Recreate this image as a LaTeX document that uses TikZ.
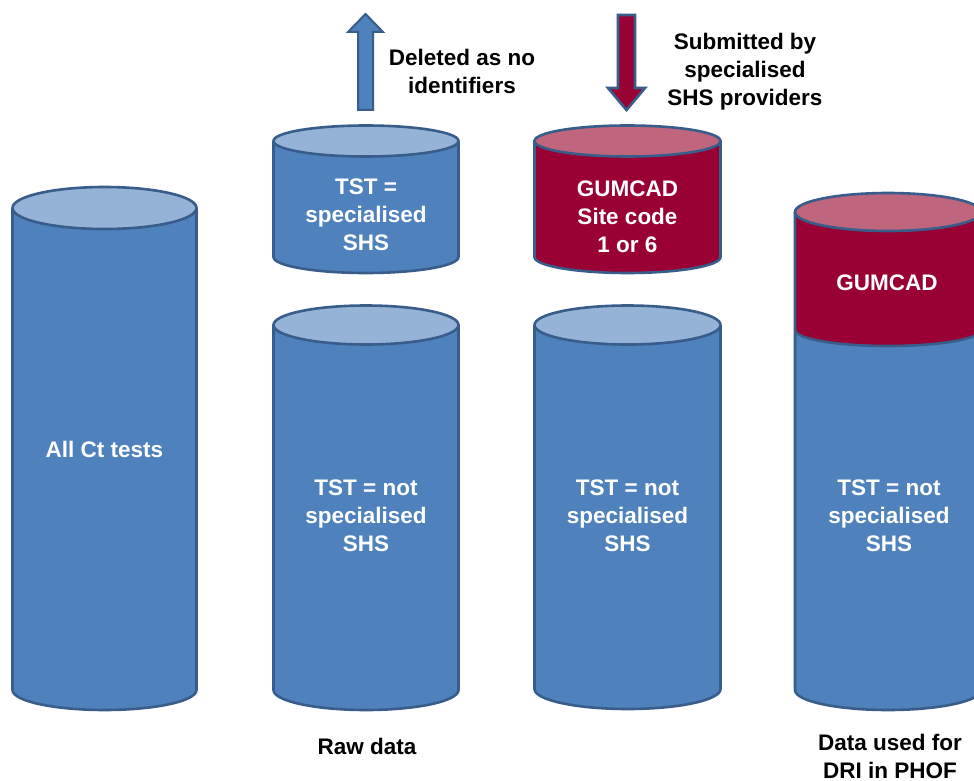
\documentclass[tikz,border=0pt]{standalone}
\usepackage{fontspec}
\setmainfont{Liberation Sans}
\definecolor{bodyblue}{HTML}{4F81BD}
\definecolor{topblue}{HTML}{95B3D7}
\definecolor{edgeblue}{HTML}{385D8A}
\definecolor{bodyred}{HTML}{990033}
\definecolor{topred}{HTML}{C0657E}
\newcommand\mycyl[8]{%
  \fill[#7] ({#1-#2},{#3}) -- ({#1-#2},{#5}) arc[start angle=180,end angle=0,x radius=#2,y radius=#6] -- ({#1+#2},{#3}) -- cycle;
  \draw[edgeline] ({#1-#2},{#3}) -- ({#1-#2},{#5}) arc[start angle=180,end angle=0,x radius=#2,y radius=#6] -- ({#1+#2},{#3});
  \filldraw[edgeline,fill=#8] (#1,#3) ellipse [x radius=#2,y radius=#4];
}
\begin{document}
\begin{tikzpicture}[x=1pt,y=-1pt,
  edgeline/.style={draw=edgeblue,line width=2.6pt},
  intext/.style={text=white,font=\bfseries\fontsize{22.5}{28}\selectfont,align=center,inner sep=0pt},
  outtext/.style={text=black,font=\bfseries\fontsize{22.5}{28}\selectfont,align=center,inner sep=0pt}]
\useasboundingbox (0,0) rectangle (974,781);
\clip (0,0) rectangle (974,781);
\fill[white] (0,0) rectangle (974,781);

% All Ct tests
\mycyl{104.5}{92}{208}{21}{690}{20}{bodyblue}{topblue}
\node[intext] (allct) at (104.5,449) {All Ct tests};

% Raw data column
\mycyl{366}{92.5}{141}{15.5}{257}{16}{bodyblue}{topblue}
\node[intext] (rawtop) at (366,215) {TST =\\specialised\\SHS};
\mycyl{366}{92.5}{325}{19.5}{690}{20}{bodyblue}{topblue}
\node[intext] (rawbot) at (366,516) {TST = not\\specialised\\SHS};
\node[outtext] (rawlbl) at (367,746) {Raw data};

% GUMCAD column
\mycyl{627.5}{93}{141}{15.5}{257}{16}{bodyred}{topred}
\node[intext] (gumtop) at (627.5,217) {GUMCAD\\Site code\\1 or 6};
\mycyl{627.5}{93}{325}{19.5}{689}{20}{bodyblue}{topblue}
\node[intext] (gumbot) at (627.5,516) {TST = not\\specialised\\SHS};

% Final data column
\fill[bodyblue] (795,212) -- (795,690) arc[start angle=180,end angle=0,x radius=93,y radius=20] -- (981,212) -- cycle;
\fill[bodyred] (795,212) -- (795,330) arc[start angle=180,end angle=0,x radius=93,y radius=16] -- (981,212) -- cycle;
\draw[edgeline] (795,212) -- (795,690) arc[start angle=180,end angle=0,x radius=93,y radius=20] -- (981,212);
\draw[edgeline] (795,330) arc[start angle=180,end angle=0,x radius=93,y radius=16];
\filldraw[edgeline,fill=topred] (888,212) ellipse [x radius=93,y radius=19];
\node[intext] (finred) at (887,283) {GUMCAD};
\node[intext] (finblue) at (889,516) {TST = not\\specialised\\SHS};
\node[outtext] (finlbl) at (890,756) {Data used for\\DRI in PHOF};

% Block arrows
\filldraw[fill=bodyblue,draw=edgeblue,line width=2pt,line join=miter]
  (358,110) -- (358,32) -- (348,32) -- (365.5,14) -- (383,32) -- (373,32) -- (373,110) -- cycle;
\node[outtext] (dellbl) at (462,71) {Deleted as no\\identifiers};
\filldraw[fill=bodyred,draw=edgeblue,line width=2.6pt,line join=miter]
  (618,15) -- (618,88) -- (608,88) -- (626.5,110) -- (645,88) -- (635,88) -- (635,15) -- cycle;
\node[outtext] (sublbl) at (745,71.5) {Submitted by\\specialised\\SHS providers};
\end{tikzpicture}
\end{document}
